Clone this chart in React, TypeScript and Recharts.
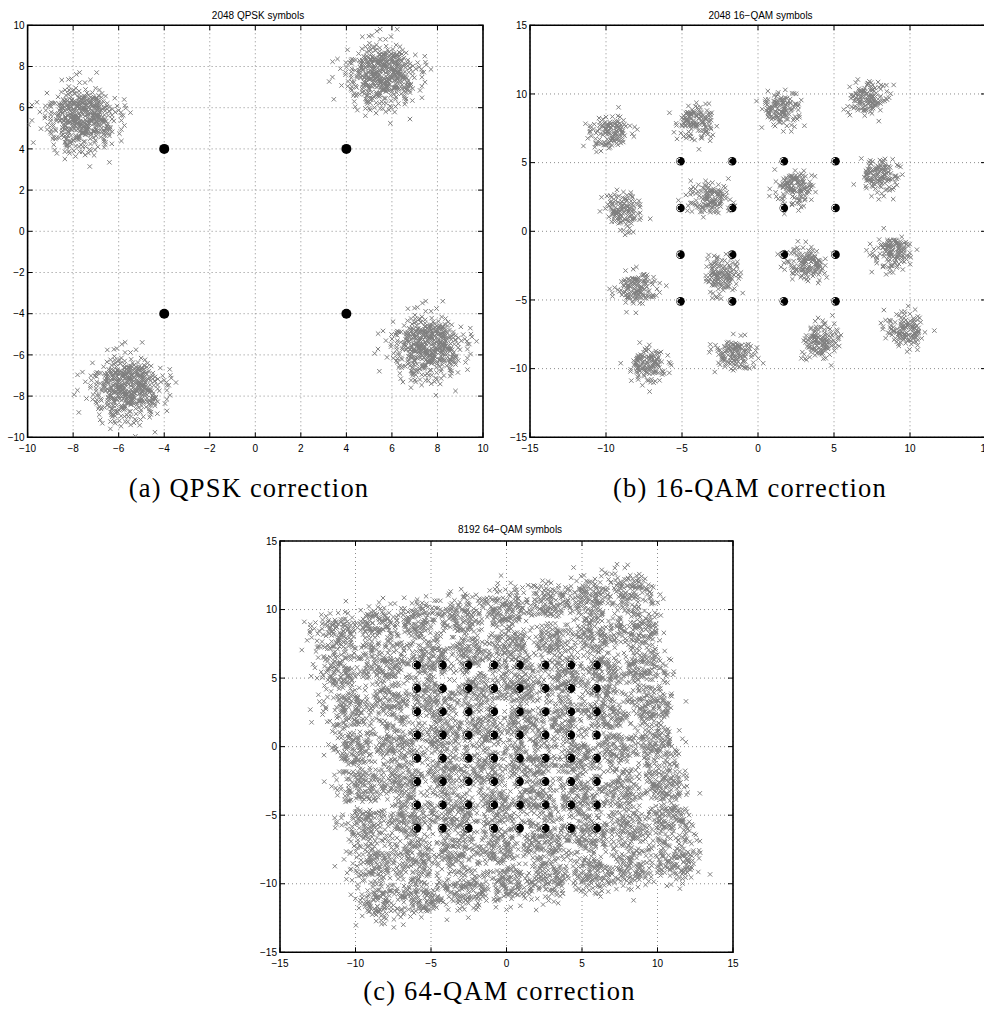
import React from 'react';
import { CartesianGrid, ReferenceArea, Scatter, ScatterChart, XAxis, YAxis } from 'recharts';

// tick labels
const QPSK_TICKS = [-10, -8, -6, -4, -2, 0, 2, 4, 6, 8, 10];
const QAM_TICKS = [-15, -10, -5, 0, 5, 10, 15];

// corrected (black) constellation points
const QPSK_IDEAL = [[-4, 4], [4, 4], [-4, -4], [4, -4]];
const QAM16_LEVELS = [-5.1, -1.7, 1.7, 5.1];
const QAM64_LEVELS = [-5.95, -4.25, -2.55, -0.85, 0.85, 2.55, 4.25, 5.95];

// centres of the received (grey) clouds
const QPSK_CENTERS = [[-7.6, 5.5], [5.6, 7.6], [-5.6, -7.6], [7.6, -5.6]];
const QAM16_CENTERS = [
  [-9.7, 7.2], [-4.1, 8.0], [1.5, 8.9], [7.2, 9.7],
  [-8.9, 1.5], [-3.2, 2.4], [2.4, 3.2], [8.0, 4.1],
  [-8.0, -4.1], [-2.4, -3.2], [3.2, -2.4], [8.9, -1.5],
  [-7.2, -9.7], [-1.5, -8.9], [4.1, -8.0], [9.7, -7.2],
];
const QAM64_CENTERS = [
  [-11.3, 8.3], [-8.5, 8.8], [-5.7, 9.2], [-2.9, 9.6], [-0.1, 10.0], [2.7, 10.5], [5.5, 10.9], [8.3, 11.3],
  [-10.9, 5.5], [-8.1, 6.0], [-5.3, 6.4], [-2.5, 6.8], [0.3, 7.2], [3.2, 7.7], [6.0, 8.1], [8.8, 8.5],
  [-10.5, 2.7], [-7.7, 3.2], [-4.9, 3.6], [-2.0, 4.0], [0.8, 4.4], [3.6, 4.9], [6.4, 5.3], [9.2, 5.7],
  [-10.0, -0.1], [-7.2, 0.3], [-4.4, 0.8], [-1.6, 1.2], [1.2, 1.6], [4.0, 2.0], [6.8, 2.5], [9.6, 2.9],
  [-9.6, -2.9], [-6.8, -2.5], [-4.0, -2.0], [-1.2, -1.6], [1.6, -1.2], [4.4, -0.8], [7.2, -0.3], [10.0, 0.1],
  [-9.2, -5.7], [-6.4, -5.3], [-3.6, -4.9], [-0.8, -4.4], [2.0, -4.0], [4.9, -3.6], [7.7, -3.2], [10.5, -2.7],
  [-8.8, -8.5], [-6.0, -8.1], [-3.2, -7.7], [-0.3, -7.2], [2.5, -6.8], [5.3, -6.4], [8.1, -6.0], [10.9, -5.5],
  [-8.3, -11.3], [-5.5, -10.9], [-2.7, -10.5], [0.1, -10.0], [2.9, -9.6], [5.7, -9.2], [8.5, -8.8], [11.3, -8.3],
];

// cloud spread (in axis units) per panel
const QPSK_SPREAD = 0.82;
const QAM16_SPREAD = 0.68;
const QAM64_SPREAD = 0.86;

// hand-typed noise pattern shared by every cloud: distance (unit spread) and direction (degrees)
const NOISE_R = [
  0.9, 1.6, 0.4, 1.2, 2.1, 0.7, 1.4, 1.0, 0.6, 1.9, 1.1, 0.3, 1.5, 2.6, 0.8, 1.3,
  1.7, 0.5, 1.0, 2.3, 0.9, 1.2, 0.2, 1.4, 1.1, 0.7, 2.0, 1.6, 0.5, 0.9, 1.3, 1.8,
  0.4, 1.2, 1.5, 0.8, 2.8, 1.0, 0.6, 1.7, 1.3, 2.2, 0.7, 1.1, 0.3, 1.6, 1.9, 0.9,
  0.8, 1.4, 0.5, 2.4, 1.2, 0.6, 1.0, 1.5, 1.9, 0.9, 1.3, 0.4, 1.7, 1.1, 2.1, 0.7,
  1.0, 0.3, 1.6, 1.2, 0.8, 2.0, 1.4, 0.6, 2.5, 1.1, 0.7, 1.5, 0.9, 1.3, 0.5, 1.8,
  0.6, 1.7, 1.0, 0.2, 1.4, 0.8, 2.2, 1.2, 1.5, 0.9, 1.9, 1.1, 0.6, 1.6, 0.4, 1.0,
  1.2, 2.0, 0.8, 1.3, 3.0, 0.7, 1.1, 1.4, 0.5, 1.0, 1.8, 0.9, 1.2, 0.3, 1.6, 2.3,
  1.4, 0.7, 1.1, 1.7, 0.5, 1.3, 0.9, 2.0, 0.8, 1.5, 2.6, 0.6, 1.0, 1.9, 1.2, 0.4,
  1.1, 0.6, 1.4, 2.1, 0.8, 1.0, 1.7, 0.3, 1.8, 1.2, 0.5, 0.9, 1.5, 2.4, 0.7, 1.3,
  0.7, 1.6, 1.0, 1.3, 0.4, 1.9, 1.1, 0.9, 2.2, 0.8, 1.2, 0.6, 1.7, 1.0, 1.4, 0.5,
  1.0, 1.3, 2.0, 0.7, 1.1, 0.2, 1.6, 1.8, 0.9, 0.4, 1.5, 1.2, 2.7, 0.8, 1.0, 1.4,
  1.6, 1.1, 0.6, 1.9, 0.9, 1.3, 0.5, 2.1, 0.3, 1.4, 1.0, 0.8, 1.2, 1.7, 2.3, 0.6,
  1.2, 0.7, 1.8, 1.0, 0.5, 1.5, 0.9, 1.1, 2.0, 1.3, 0.4, 1.6, 1.1, 0.8, 1.4, 2.9,
  0.6, 1.0, 1.2, 0.3, 1.9, 0.9, 1.5, 1.3, 1.7, 0.5, 2.2, 1.1, 0.7, 1.4, 1.0, 0.8,
  1.3, 1.8, 0.9, 0.6, 1.2, 2.5, 0.4, 1.6, 0.8, 1.1, 1.5, 2.0, 1.0, 0.7, 1.3, 0.5,
  1.4, 0.2, 1.0, 1.7, 0.9, 1.2, 2.1, 0.6, 1.1, 1.6, 0.7, 1.3, 2.4, 0.5, 0.9, 1.8,
];
const NOISE_A = [
  12, 205, 98, 317, 160, 43, 251, 289, 176, 61, 338, 122, 229, 7, 273, 144,
  84, 301, 19, 196, 137, 355, 240, 58, 263, 110, 180, 33, 322, 88, 215, 151,
  301, 27, 133, 246, 74, 189, 350, 105, 47, 226, 293, 162, 5, 118, 68, 331,
  199, 346, 81, 14, 257, 139, 310, 235, 126, 272, 38, 213, 168, 94, 356, 285,
  66, 155, 320, 240, 102, 21, 183, 283, 237, 3, 111, 298, 53, 172, 342, 220,
  147, 264, 29, 194, 326, 77, 245, 118, 311, 92, 221, 140, 17, 268, 165, 50,
  9, 176, 284, 63, 209, 332, 124, 250, 190, 318, 46, 107, 262, 153, 24, 349,
  276, 131, 355, 223, 85, 297, 40, 167, 101, 244, 159, 11, 306, 192, 71, 337,
  36, 211, 128, 279, 343, 58, 186, 230, 324, 99, 253, 175, 16, 142, 292, 70,
  161, 6, 335, 86, 226, 119, 260, 31, 252, 147, 60, 303, 181, 352, 97, 207,
  116, 289, 200, 22, 136, 81, 327, 243, 53, 170, 248, 314, 93, 2, 217, 134,
  340, 228, 75, 154, 269, 42, 121, 304, 198, 26, 309, 109, 60, 237, 171, 357,
  88, 265, 11, 191, 321, 146, 231, 45, 283, 64, 157, 246, 112, 10, 334, 188,
  139, 316, 96, 35, 206, 273, 80, 168, 18, 184, 274, 128, 300, 52, 222, 345,
  233, 113, 348, 71, 163, 26, 257, 196, 171, 296, 15, 218, 100, 330, 55, 259,
  327, 40, 208, 149, 281, 119, 4, 89, 76, 247, 132, 352, 18, 198, 286, 158,
];

type Pt = { x: number; y: number };

const GREY = '#7f7f7f';
const SANS = 'Liberation Sans, Arial, sans-serif';
const SERIF = 'Liberation Serif, Times New Roman, serif';

// each cluster takes `count` entries of the noise table starting at a different place,
// and turns the pattern by a different angle so neighbouring clusters do not line up
function buildCloud(
  centers: number[][],
  spread: number,
  count: number,
  step: number,
  turn = 0,
  turnStep = 0,
): Pt[] {
  const out: Pt[] = [];
  centers.forEach(([cx, cy], k) => {
    for (let i = 0; i < count; i++) {
      const j = (k * step + i) % NOISE_R.length;
      const a = ((NOISE_A[j] + turn + k * turnStep) * Math.PI) / 180;
      const r = NOISE_R[j] * spread;
      out.push({ x: cx + r * Math.cos(a), y: cy + r * Math.sin(a) });
    }
  });
  return out;
}

const gridOf = (levels: number[]): Pt[] => levels.flatMap((y) => levels.map((x) => ({ x, y })));

const qpskCloud = [
  ...buildCloud(QPSK_CENTERS, QPSK_SPREAD, NOISE_R.length, 64),
  ...buildCloud(QPSK_CENTERS, QPSK_SPREAD, NOISE_R.length, 64, 90),
];
const qam16Cloud = buildCloud(QAM16_CENTERS, QAM16_SPREAD, 128, 53, 0, 67);
const qam64Cloud = buildCloud(QAM64_CENTERS, QAM64_SPREAD, 128, 37, 0, 67);

const qpskIdeal = QPSK_IDEAL.map(([x, y]) => ({ x, y }));
const qam16Ideal = gridOf(QAM16_LEVELS);
const qam64Ideal = gridOf(QAM64_LEVELS);

const fmt = (v: number) => (v < 0 ? `\u2212${-v}` : `${v}`);

function XMark(props: any) {
  const { cx, cy } = props;
  const h = 2.2;
  return (
    <path
      d={`M${cx - h},${cy - h}L${cx + h},${cy + h}M${cx - h},${cy + h}L${cx + h},${cy - h}`}
      stroke={GREY}
      strokeWidth={1}
      fill="none"
    />
  );
}

function makeDot(r: number, crescent: boolean) {
  return function Dot(props: any) {
    const { cx, cy } = props;
    const ir = r * 0.68;
    return (
      <g>
        <circle cx={cx} cy={cy} r={r} fill="#000" />
        {crescent ? (
          <path
            d={`M${cx - 0.6},${cy - ir}A${ir},${ir} 0 0 0 ${cx - 0.6},${cy + ir}`}
            stroke="#fff"
            strokeWidth={1}
            fill="none"
          />
        ) : null}
      </g>
    );
  };
}

interface PanelProps {
  left: number;
  top: number;
  width: number;
  height: number;
  // plot box inside the chart: left/top/right/bottom edges in px
  box: { left: number; top: number; right: number; bottom: number };
  domain: [number, number];
  ticks: number[];
  cloud: Pt[];
  ideal: Pt[];
  dotR: number;
  crescent: boolean;
}

function Panel({ left, top, width, height, box, domain, ticks, cloud, ideal, dotR, crescent }: PanelProps) {
  const plotTop = box.top;
  const plotRight = box.right;

  // MATLAB style: ticks point inward, on all four sides
  const XTick = (p: any) => (
    <g>
      <line x1={p.x} x2={p.x} y1={p.y} y2={p.y - 5} stroke="#000" />
      <line x1={p.x} x2={p.x} y1={plotTop} y2={plotTop + 5} stroke="#000" />
      <text x={p.x} y={p.y + 15} textAnchor="middle" fontSize={10} fontFamily={SANS} fill="#000">
        {fmt(p.payload.value)}
      </text>
    </g>
  );
  const YTick = (p: any) => (
    <g>
      <line x1={p.x} x2={p.x + 5} y1={p.y} y2={p.y} stroke="#000" />
      <line x1={plotRight} x2={plotRight - 5} y1={p.y} y2={p.y} stroke="#000" />
      <text x={p.x - 3} y={p.y + 3.6} textAnchor="end" fontSize={10} fontFamily={SANS} fill="#000">
        {fmt(p.payload.value)}
      </text>
    </g>
  );

  return (
    <div style={{ position: 'absolute', left, top }}>
      <ScatterChart
        width={width}
        height={height}
        margin={{ top: box.top, right: width - box.right, left: 0, bottom: 0 }}
      >
        <CartesianGrid stroke="#8c8c8c" strokeDasharray="1 3" />
        <XAxis
          type="number"
          dataKey="x"
          domain={domain}
          ticks={ticks}
          interval={0}
          allowDataOverflow
          height={height - box.bottom}
          axisLine={false}
          tickLine={false}
          tickSize={0}
          tickMargin={0}
          tick={XTick}
        />
        <YAxis
          type="number"
          dataKey="y"
          domain={domain}
          ticks={ticks}
          interval={0}
          allowDataOverflow
          width={box.left}
          axisLine={false}
          tickLine={false}
          tickSize={0}
          tickMargin={0}
          tick={YTick}
        />
        <Scatter data={cloud} shape={XMark} isAnimationActive={false} />
        <Scatter data={ideal} shape={makeDot(dotR, crescent)} isAnimationActive={false} />
        <ReferenceArea
          x1={domain[0]}
          x2={domain[1]}
          y1={domain[0]}
          y2={domain[1]}
          fill="none"
          stroke="#000"
          strokeWidth={1.6}
        />
      </ScatterChart>
    </div>
  );
}

export default function App() {
  return (
    <div
      style={{
        position: 'absolute',
        left: 0,
        top: 0,
        width: 984,
        height: 1018,
        overflow: 'hidden',
        background: '#fff',
      }}
    >
      <Panel
        left={0}
        top={0}
        width={500}
        height={470}
        box={{ left: 27.6, top: 25.3, right: 483, bottom: 437.3 }}
        domain={[-10, 10]}
        ticks={QPSK_TICKS}
        cloud={qpskCloud}
        ideal={qpskIdeal}
        dotR={5}
        crescent={false}
      />
      <Panel
        left={490}
        top={0}
        width={496}
        height={470}
        box={{ left: 40, top: 25.3, right: 496, bottom: 437.3 }}
        domain={[-15, 15]}
        ticks={QAM_TICKS}
        cloud={qam16Cloud}
        ideal={qam16Ideal}
        dotR={4.3}
        crescent
      />
      <Panel
        left={240}
        top={520}
        width={510}
        height={450}
        box={{ left: 40, top: 21, right: 493, bottom: 432.3 }}
        domain={[-15, 15]}
        ticks={QAM_TICKS}
        cloud={qam64Cloud}
        ideal={qam64Ideal}
        dotR={4.5}
        crescent
      />
      <svg
        width={984}
        height={1018}
        style={{ position: 'absolute', left: 0, top: 0, pointerEvents: 'none' }}
      >
        <g fontFamily={SANS} fontSize={10} fill="#000" textAnchor="middle">
          <text x={258} y={19.3}>2048 QPSK symbols</text>
          <text x={760.5} y={19.3}>2048 16{'\u2212'}QAM symbols</text>
          <text x={510} y={533}>8192 64{'\u2212'}QAM symbols</text>
        </g>
        <g fontFamily={SERIF} fontSize={26.5} letterSpacing={1.2} fill="#000" textAnchor="middle">
          <text x={249} y={497}>(a) QPSK correction</text>
          <text x={750} y={497}>(b) 16-QAM correction</text>
          <text x={499.5} y={1000}>(c) 64-QAM correction</text>
        </g>
      </svg>
    </div>
  );
}
